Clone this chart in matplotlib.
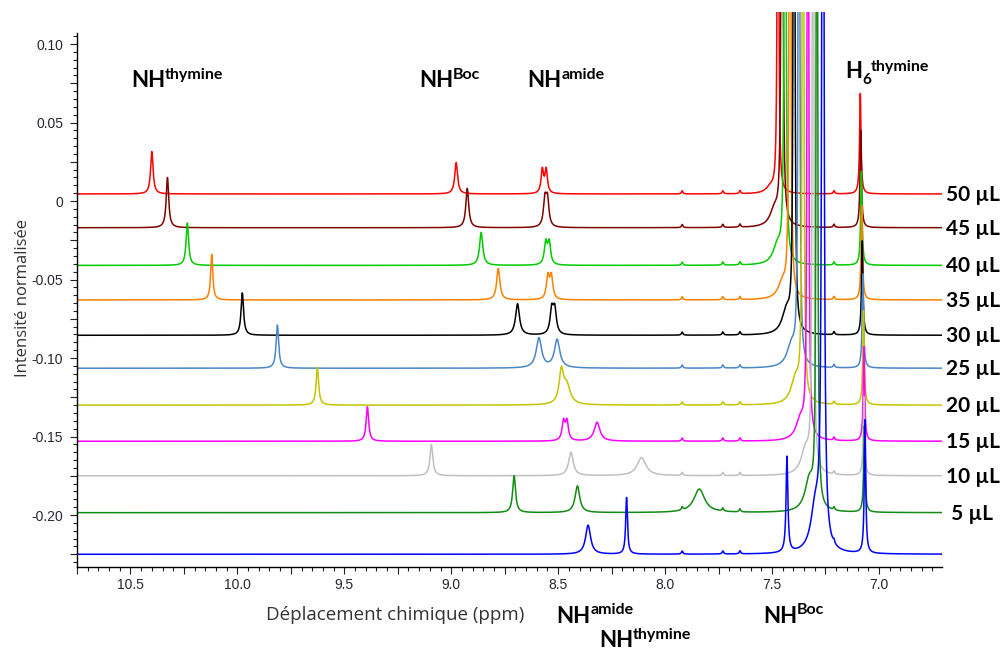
import numpy as np
import matplotlib
matplotlib.use("Agg")
from matplotlib import pyplot as plt
from matplotlib.ticker import FixedLocator, FuncFormatter

W, H = 1005, 651

# one entry per spectrum, from 0 uL (bottom, blue) to 50 uL (top, red)
volumes = [0, 5, 10, 15, 20, 25, 30, 35, 40, 45, 50]
colors = ['#0000ff', '#138a13', '#c0c0c0', '#ff00ff', '#c4c400', '#4a86c6',
          '#000000', '#ff8000', '#00cc00', '#800000', '#ff0000']
baselines = [-0.225, -0.1985, -0.175, -0.153, -0.130, -0.1065, -0.0855, -0.063, -0.041, -0.017, 0.0045]

# NH thymine
thy_pos = [8.18, 8.706, 9.093, 9.392, 9.626, 9.813, 9.977, 10.12, 10.234, 10.327, 10.40]
thy_h = [0.036, 0.0235, 0.020, 0.022, 0.024, 0.0275, 0.027, 0.029, 0.027, 0.032, 0.027]
thy_w = [0.005, 0.008, 0.008, 0.007, 0.007, 0.007, 0.007, 0.006, 0.007, 0.007, 0.007]

# NH Boc
boc_pos = [7.43, 7.84, 8.11, 8.318, 8.46, 8.59, 8.69, 8.78, 8.86, 8.925, 8.977]
boc_h = [0.061, 0.015, 0.0115, 0.012, 0.012, 0.019, 0.020, 0.020, 0.021, 0.025, 0.020]
boc_w = [0.005, 0.03, 0.025, 0.016, 0.02, 0.015, 0.011, 0.009, 0.009, 0.008, 0.008]

# NH amide (split = distance between the two lines of the doublet)
amide_pos = [8.36, 8.41, 8.44, 8.467, 8.485, 8.505, 8.523, 8.54, 8.55, 8.556, 8.565]
amide_h = [0.0185, 0.017, 0.015, 0.012, 0.02, 0.018, 0.0155, 0.0145, 0.014, 0.017, 0.015]
amide_w = [0.014, 0.013, 0.013, 0.008, 0.012, 0.015, 0.009, 0.008, 0.008, 0.008, 0.007]
amide_split = [0, 0, 0, 0.016, 0, 0, 0.014, 0.016, 0.016, 0.012, 0.018]

# big off-scale peak, with a broad shoulder on its high-ppm side
big_pos = [7.262, 7.290, 7.308, 7.332, 7.355, 7.374, 7.397, 7.416, 7.439, 7.453, 7.472]
big_h = [1.0, 1.0, 1.0, 1.0, 1.0, 1.0, 1.0, 1.0, 1.0, 1.0, 0.6]
big_w = [0.004, 0.0025, 0.0025, 0.0025, 0.0025, 0.0025, 0.0025, 0.0025, 0.0025, 0.0025, 0.0025]
shoulder_h = [0.028, 0.02, 0.016, 0.013, 0.016, 0.014, 0.015, 0.01, 0.012, 0.011, 0.004]

# H6 thymine
h6_pos = [7.065, 7.068, 7.07, 7.07, 7.072, 7.075, 7.078, 7.08, 7.082, 7.085, 7.087]
h6_h = [0.085, 0.055, 0.05, 0.06, 0.06, 0.06, 0.06, 0.06, 0.06, 0.062, 0.064]

# small peaks seen in every spectrum
small_pos = [7.92, 7.73, 7.65, 7.21]
small_h = [0.002, 0.002, 0.002, 0.002]


def lorentz(x, pos, h, w):
    return h * w ** 2 / ((x - pos) ** 2 + w ** 2)


fig = plt.figure(figsize=(W / 100, H / 100), dpi=100)
ax = fig.add_axes([77 / W, 1 - 567 / H, (942 - 77) / W, (567 - 12) / H])

ppm = np.linspace(10.75, 6.70, 16201)
for i in reversed(range(len(volumes))):
    y = np.full_like(ppm, baselines[i])
    y += lorentz(ppm, thy_pos[i], thy_h[i], thy_w[i])
    y += lorentz(ppm, boc_pos[i], boc_h[i], boc_w[i])
    s = amide_split[i]
    if s:
        y += lorentz(ppm, amide_pos[i] + s / 2, amide_h[i], amide_w[i])
        y += lorentz(ppm, amide_pos[i] - s / 2, amide_h[i], amide_w[i])
    else:
        y += lorentz(ppm, amide_pos[i], amide_h[i], amide_w[i])
    y += lorentz(ppm, big_pos[i], big_h[i], big_w[i])
    y += lorentz(ppm, big_pos[i] + 0.035, shoulder_h[i], 0.025)
    y += lorentz(ppm, h6_pos[i], h6_h[i], 0.004)
    for p, h in zip(small_pos, small_h):
        y += lorentz(ppm, p, h, 0.004)
    ax.plot(ppm, y, color=colors[i], lw=1.1)

ymin, ytop = -0.2331, 0.1204
ax.set_xlim(10.75, 6.705)
ax.set_ylim(ymin, ytop)
for side in ['top', 'right']:
    ax.spines[side].set_visible(False)
ax.spines['left'].set_bounds(ymin, 0.107)
for side in ['left', 'bottom']:
    ax.spines[side].set_linewidth(1.0)

ax.xaxis.set_major_locator(FixedLocator(np.arange(7.0, 10.76, 0.25)))
ax.xaxis.set_minor_locator(FixedLocator(np.arange(6.75, 10.76, 0.05)))
ax.xaxis.set_major_formatter(FuncFormatter(
    lambda v, p: f"{v:.1f}" if abs(v * 2 - round(v * 2)) < 1e-6 else ""))
ax.yaxis.set_major_locator(FixedLocator(np.arange(-0.225, 0.101, 0.025)))
ax.yaxis.set_minor_locator(FixedLocator(np.arange(-0.230, 0.1075, 0.005)))


def yfmt(v, p):
    if abs(v) < 1e-9:
        return "0"
    if abs(v * 20 - round(v * 20)) < 1e-6:
        return f"{v:.2f}"
    return ""


ax.yaxis.set_major_formatter(FuncFormatter(yfmt))
ax.tick_params(which='major', length=5, width=0.8, color='#222222',
               labelsize=10, labelcolor='#262633')
ax.tick_params(which='minor', length=3, width=0.8, color='#222222')
ax.tick_params(axis='y', pad=5)
ax.tick_params(axis='x', pad=3)
for lab in ax.get_xticklabels() + ax.get_yticklabels():
    lab.set_family('Liberation Sans')

fig.text(395 / W, 1 - 615 / H, 'Déplacement chimique (ppm)', family='Open Sans',
         fontsize=13.5, color='#333333', ha='center', va='center')
fig.text(23 / W, 1 - 298 / H, 'Intensité normalisée', family='Open Sans',
         fontsize=12, color='#333333', ha='center', va='center', rotation=90)

# volume labels at the right of each spectrum
for i in range(1, len(volumes)):
    lab = f"{volumes[i]} µL" if volumes[i] >= 10 else f" {volumes[i]} µL"
    ax.annotate(lab, xy=(1, baselines[i]), xycoords=ax.get_yaxis_transform(),
                xytext=(3, -5), textcoords='offset points', family='Lato',
                fontweight='bold', fontsize=15, va='baseline', ha='left',
                annotation_clip=False)

renderer = fig.canvas.get_renderer()


def chem_label(x, y, main, sup=None, sub=None, sup_y=None, sub_y=None):
    t = fig.text(x / W, 1 - y / H, main, family='Lato', fontweight='bold',
                 fontsize=16, va='baseline', ha='left')
    x1 = t.get_window_extent(renderer).x1
    if sub:
        s = fig.text(x1 / W, 1 - sub_y / H, sub, family='Lato', fontweight='bold',
                     fontsize=11, va='baseline', ha='left')
        x1 = s.get_window_extent(renderer).x1
    if sup:
        fig.text(x1 / W, 1 - sup_y / H, sup, family='Lato', fontweight='bold',
                 fontsize=11.5, va='baseline', ha='left')


chem_label(131, 87, 'NH', sup='thymine', sup_y=79)
chem_label(419, 87, 'NH', sup='Boc', sup_y=79)
chem_label(527, 87, 'NH', sup='amide', sup_y=79)
chem_label(845, 78, 'H', sub='6', sub_y=84, sup='thymine', sup_y=71)
chem_label(556, 623, 'NH', sup='amide', sup_y=614)
chem_label(599, 647, 'NH', sup='thymine', sup_y=639)
chem_label(763, 623, 'NH', sup='Boc', sup_y=614)

fig.savefig('out.png', dpi=100)
